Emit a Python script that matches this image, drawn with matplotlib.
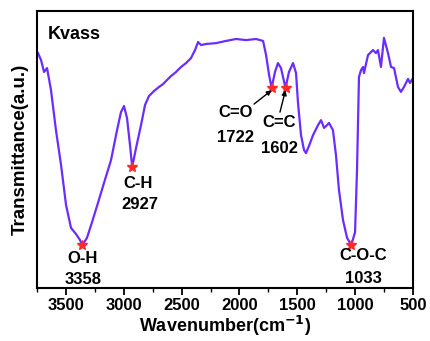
import matplotlib
matplotlib.use("Agg")
import matplotlib.pyplot as plt
from matplotlib.ticker import MultipleLocator

plt.rcParams['font.family'] = ['Liberation Sans', 'DejaVu Sans']
plt.rcParams['font.weight'] = 'bold'

# Spectrum (wavenumber cm^-1, transmittance a.u.)
wavenumber = [3741, 3715, 3689, 3663, 3629, 3586, 3542, 3499, 3456, 3413, 3378, 3358,
              3318, 3274, 3223, 3171, 3110, 3058, 3024, 2998, 2972, 2946, 2927, 2894,
              2851, 2816, 2782, 2739, 2695, 2661, 2626, 2592, 2548, 2505, 2462, 2419,
              2384, 2358, 2332, 2289, 2203, 2116, 2030, 1943, 1857, 1796, 1770, 1744,
              1722, 1693, 1667, 1641, 1602, 1572, 1537, 1511, 1494, 1468, 1442, 1425,
              1399, 1364, 1321, 1295, 1269, 1243, 1226, 1192, 1166, 1140, 1105, 1070,
              1033, 1001, 984, 967, 949, 932, 924, 889, 846, 820, 803, 777, 751, 716,
              690, 664, 630, 604, 578, 543, 526, 500]
transmittance = [84.8, 82.3, 78.0, 79.4, 71.5, 57.0, 44.4, 30.0, 21.7, 19.5, 17.3, 15.5,
                 18.1, 23.8, 30.7, 37.9, 46.2, 57.0, 63.5, 65.7, 61.4, 51.6, 43.7, 50.5,
                 58.8, 66.1, 69.3, 71.1, 72.6, 73.6, 75.1, 76.5, 78.0, 79.8, 81.2, 83.0,
                 85.9, 88.8, 87.7, 88.1, 88.4, 89.2, 89.9, 89.5, 89.9, 89.2, 84.1, 76.9,
                 72.2, 78.0, 81.2, 79.4, 72.2, 78.0, 81.2, 77.6, 66.8, 55.2, 49.8, 48.7,
                 51.3, 55.2, 58.8, 60.6, 57.8, 58.8, 59.6, 57.0, 48.0, 35.4, 24.5, 18.1,
                 15.5, 20.2, 42.6, 76.2, 78.7, 79.8, 77.6, 84.1, 85.9, 84.8, 85.9, 79.8,
                 90.3, 84.8, 79.8, 79.4, 72.6, 70.8, 72.6, 75.5, 74.0, 75.8]

# Peak annotations
peak_names = ["O-H", "C-H", "C=O", "C=C", "C-O-C"]
peak_pos = [3358, 2927, 1722, 1602, 1033]
peak_val = [15.5, 43.7, 72.2, 72.2, 15.5]

# Layout for labels (text centers, name line and number line) and arrows
name_xy = [(3352, 10.8), (2877, 37.9), (2030, 63.2), (1658, 59.9), (932, 11.9)]
num_xy = [(3352, 2.9), (2860, 30.0), (2030, 54.2), (1658, 50.5), (932, 3.6)]
arrow_from = {2: (1874, 66.4), 3: (1650, 63.5)}

fig = plt.figure(figsize=(4.30, 3.41), dpi=100)
ax = fig.add_axes([0.086, 0.1554, 0.8745, 0.8123])

ax.plot(wavenumber, transmittance, color='#6a2cff', lw=1.6, zorder=2)
ax.plot(peak_pos, peak_val, linestyle='none', marker='*', color='#ff2a2a',
        markersize=7, zorder=3)

for i, name in enumerate(peak_names):
    ax.text(*name_xy[i], name, ha='center', va='center', fontsize=12, fontweight='bold')
    ax.text(*num_xy[i], str(peak_pos[i]), ha='center', va='center', fontsize=12,
            fontweight='bold')
for i, start in arrow_from.items():
    ax.annotate('', xy=(peak_pos[i], peak_val[i] - 0.8), xytext=start,
                arrowprops=dict(arrowstyle='-|>', color='black', lw=1.0,
                                mutation_scale=7, shrinkA=0, shrinkB=0))

ax.text(0.029, 0.917, 'Kvass', transform=ax.transAxes, ha='left', va='center',
        fontsize=13, fontweight='bold')

ax.set_xlim(3750, 500)
ax.set_ylim(0, 100)
ax.xaxis.set_major_locator(MultipleLocator(500))
ax.xaxis.set_minor_locator(MultipleLocator(250))
ax.set_yticks([])
ax.tick_params(axis='x', which='major', direction='out', length=5, width=1.3,
               labelsize=12, pad=2)
ax.tick_params(axis='x', which='minor', direction='out', length=3, width=1.0)
for lab in ax.get_xticklabels():
    lab.set_fontweight('bold')
for sp in ax.spines.values():
    sp.set_linewidth(1.5)

ax.set_xlabel('Wavenumber(cm$^{\\mathbf{-1}}$)', fontsize=13, fontweight='bold', labelpad=1)
ax.set_ylabel('Transmittance(a.u.)', fontsize=13.5, fontweight='bold', labelpad=6)

fig.savefig('out.png', dpi=100)
